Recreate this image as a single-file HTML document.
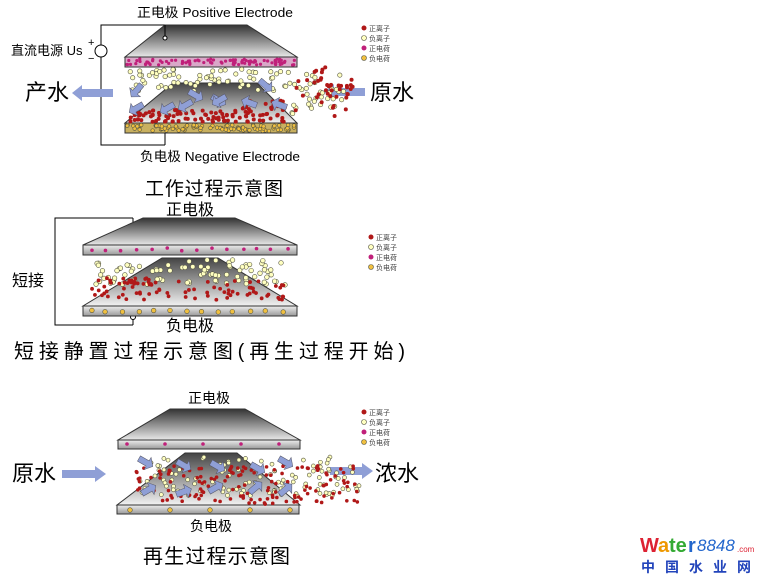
<!DOCTYPE html>
<html><head><meta charset="utf-8"><style>
html,body{margin:0;padding:0;background:#fff;width:768px;height:582px;overflow:hidden}
svg{display:block}
text{font-family:"Liberation Sans","Noto Sans CJK SC",sans-serif;fill:#000}
</style></head><body>
<svg id="s" width="768" height="582" viewBox="0 0 768 582" xmlns="http://www.w3.org/2000/svg">
<defs>
<linearGradient id="tg" x1="0" y1="0" x2="0" y2="1"><stop offset="0" stop-color="#333"/><stop offset="1" stop-color="#e8e8e8"/></linearGradient>
<linearGradient id="bg" x1="0" y1="0" x2="0" y2="1"><stop offset="0" stop-color="#444"/><stop offset="1" stop-color="#f2f2f2"/></linearGradient>
<linearGradient id="pl" x1="0" y1="0" x2="0" y2="1"><stop offset="0" stop-color="#eee"/><stop offset="1" stop-color="#999"/></linearGradient>
</defs>
<g id="g1">
<polyline points="165,25 101,25 101,145 165,145" fill="none" stroke="#000" stroke-width="1"/>
<circle cx="101" cy="51" r="6" fill="#fff" stroke="#000"/>
<text x="88" y="46" font-size="11">+</text><text x="88" y="62" font-size="11">−</text>
<text x="11" y="55" font-size="13">直流电源 Us</text>
<polygon points="165,25 247,25 297,57 125,57" fill="url(#tg)" stroke="#333"/>
<rect x="125" y="57" width="172" height="10" fill="#d9a8c8" stroke="#333"/>
<polygon points="173,83 257,83 297,123 125,123" fill="url(#bg)" stroke="#333"/>
<rect x="125" y="123" width="172" height="10" fill="#c8b060" stroke="#333"/>
<line x1="165" y1="25" x2="165" y2="36" stroke="#000"/><circle cx="165" cy="38" r="2" fill="#fff" stroke="#000"/>
<line x1="165" y1="133" x2="165" y2="145" stroke="#000"/>
<text x="137" y="17" font-size="13" textLength="156" lengthAdjust="spacingAndGlyphs">正电极  Positive Electrode</text>
<text x="140" y="161" font-size="13" textLength="160" lengthAdjust="spacingAndGlyphs">负电极  Negative Electrode</text>
<text x="145" y="195" font-size="19" textLength="138">工作过程示意图</text>
<text x="25" y="100" font-size="22">产水</text>
<text x="370" y="100" font-size="22">原水</text>
<polygon points="72,93 82,85 82,89 113,89 113,97 82,97 82,101" fill="#8f9fd6"/>
<polygon points="324,92 334,84 334,88 365,88 365,96 334,96 334,100" fill="#8f9fd6"/>
</g>
<g>
<polyline points="133,218 55,218 55,325 133,325" fill="none" stroke="#000"/>
<line x1="133" y1="218" x2="133" y2="229" stroke="#000"/><circle cx="133" cy="231" r="2.5" fill="#fff" stroke="#000"/>
<line x1="133" y1="316" x2="133" y2="325" stroke="#000"/><circle cx="133" cy="317" r="2.5" fill="#fff" stroke="#000"/>
<polygon points="143,218 235,218 297,245 83,245" fill="url(#tg)" stroke="#333"/>
<rect x="83" y="245" width="214" height="10" fill="url(#pl)" stroke="#333"/>
<polygon points="162,258 218,258 297,306 83,306" fill="url(#bg)" stroke="#333"/>
<rect x="83" y="306" width="214" height="10" fill="url(#pl)" stroke="#333"/>
<text x="166" y="215" font-size="16">正电极</text>
<text x="166" y="331" font-size="16">负电极</text>
<text x="12" y="286" font-size="16">短接</text>
<text x="14" y="358" font-size="20" textLength="391">短接静置过程示意图(再生过程开始)</text>
</g>
<g>
<polygon points="170,409 245,409 300,440 118,440" fill="url(#tg)" stroke="#333"/>
<rect x="118" y="440" width="182" height="9" fill="url(#pl)" stroke="#333"/>
<polygon points="185,453 237,453 300,505 117,505" fill="url(#bg)" stroke="#333"/>
<rect x="117" y="505" width="182" height="9" fill="url(#pl)" stroke="#333"/>
<text x="188" y="403" font-size="14">正电极</text>
<text x="190" y="531" font-size="14">负电极</text>
<text x="143" y="563" font-size="20" textLength="147">再生过程示意图</text>
<text x="12" y="481" font-size="22">原水</text>
<text x="375" y="481" font-size="22">浓水</text>
<polygon points="62,470 95,470 95,466 106,474 95,482 95,478 62,478" fill="#8f9fd6"/>
<polygon points="330,467 362,467 362,463 373,471 362,479 362,475 330,475" fill="#8f9fd6"/>
</g>
<g id="dots"></g>
<g font-size="7">
<text x="640" y="552" font-size="20" font-weight="bold" style="fill:#d23">W</text>
<text x="658" y="552" font-size="20" font-weight="bold" style="fill:#e90">a</text>
<text x="669" y="552" font-size="20" font-weight="bold" style="fill:#3a3">te</text>
<text x="688" y="552" font-size="20" font-weight="bold" style="fill:#26c">r</text>
<text x="697" y="551" font-size="17" font-style="italic" style="fill:#26c">8848</text>
<text x="737" y="552" font-size="8" style="fill:#d23">.com</text>
<text x="641" y="572" font-size="14" font-weight="bold" letter-spacing="10" style="fill:#24b">中国水业网</text>
</g>
</svg>
<script>
var s=7;function r(){s=(s*16807)%2147483647;return s/2147483647;}
var g=document.getElementById('dots'),NS='http://www.w3.org/2000/svg';
function c(x,y,rad,f){var e=document.createElementNS(NS,'circle');e.setAttribute('cx',x);e.setAttribute('cy',y);e.setAttribute('r',rad);e.setAttribute('fill',f);if(f=='#ffffc0'||f=='#f0c040'){e.setAttribute('stroke','#554');e.setAttribute('stroke-width','0.6');}g.appendChild(e);}
function a(x,y,ang){var e=document.createElementNS(NS,'path');e.setAttribute('d','M-7,-3 L3,-3 L3,-7 L9,0 L3,7 L3,3 L-7,3Z');e.setAttribute('fill','#8f9fd6');e.setAttribute('stroke','#556');e.setAttribute('stroke-width','0.5');e.setAttribute('transform','translate('+x+','+y+') rotate('+ang+')');g.appendChild(e);}
var R='#b01818',Y='#ffffc0',P='#c0207a',O='#f0c040';
function L(x,y){var cs=[R,Y,P,O],t=['正离子','负离子','正电荷','负电荷'];for(var i=0;i<4;i++){c(x,y+i*10,2.5,cs[i]);var e=document.createElementNS(NS,'text');e.setAttribute('x',x+5);e.setAttribute('y',y+i*10+3);e.setAttribute('font-size','7');e.setAttribute('style','fill:#444');e.textContent=t[i];g.appendChild(e);}}
L(364,28);L(371,237);L(364,412);
var i;
for(i=0;i<90;i++)c(127+r()*168,59+r()*6,1.6,P);
for(i=0;i<90;i++)c(127+r()*168,125+r()*6,1.8,O);
for(i=0;i<140;i++){var x=130+r()*220,y=69+r()*22;if(x>300||r()<0.7)c(x,y+(x>290?r()*25:0),2.2,Y);}
for(i=0;i<160;i++){var x=130+r()*230,y=100+r()*22;if(x<240&&y<112)y+=10;c(x,y-(x>290?r()*40:0),2,R);}
[[137,90,130],[195,95,30],[218,100,30],[137,108,150],[168,108,150],[186,105,150],[220,100,150],[250,103,200],[280,105,200],[265,85,40]].forEach(function(p){a(p[0],p[1],p[2]);});
for(i=0;i<14;i++)c(90+i*15+r()*4,248+r()*3,1.8,P);
for(i=0;i<13;i++)c(88+i*16+r()*4,310+r()*2,2.3,O);
for(i=0;i<90;i++)c(95+r()*190,260+r()*25,2.3,Y);
for(i=0;i<90;i++)c(92+r()*195,278+r()*22,1.9,R);
for(i=0;i<5;i++)c(127+i*38,444,1.8,P);
for(i=0;i<5;i++)c(130+i*40,510,2.3,O);
for(i=0;i<120;i++){var x=140+r()*220,y=457+r()*40;c(x,y,2,Y);}
for(i=0;i<150;i++){var x=135+r()*225,y=465+r()*40;c(x,y,1.8,R);}
[[145,462,30],[183,465,30],[217,466,30],[257,468,30],[285,462,30],[148,490,-30],[183,492,-20],[215,488,-30],[255,488,-40],[285,490,-40]].forEach(function(p){a(p[0],p[1],p[2]);});
</script>
</body></html>
